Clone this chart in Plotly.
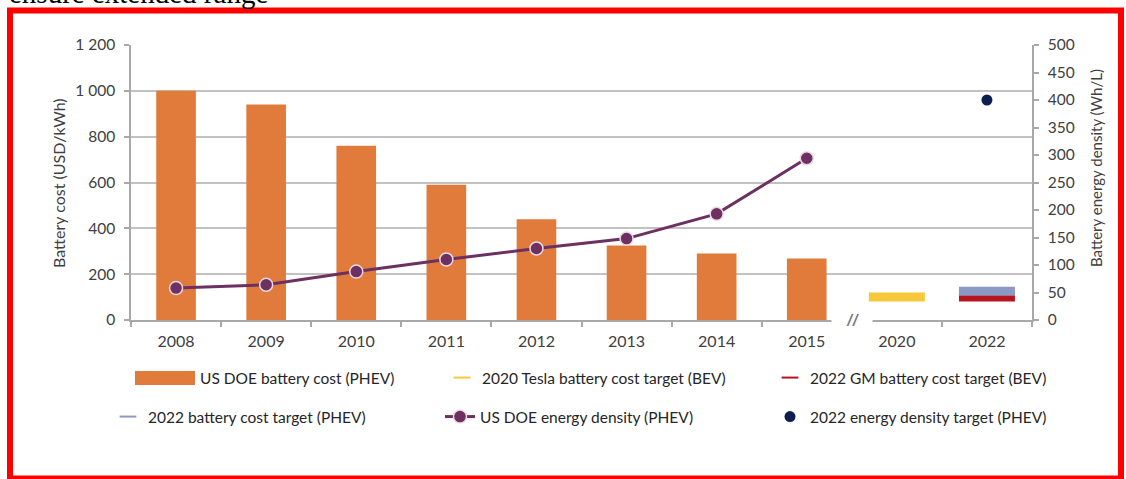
import plotly.graph_objects as go

W, H = 1126, 479

# Category axis (years), with a break between 2015 and 2020
categories = ["2008", "2009", "2010", "2011", "2012", "2013", "2014", "2015", "2020", "2022"]

# US DOE battery cost (PHEV), USD/kWh
cost_years = ["2008", "2009", "2010", "2011", "2012", "2013", "2014", "2015"]
cost_values = [1000, 940, 760, 590, 440, 325, 290, 268]

# US DOE energy density (PHEV), Wh/L
density_years = ["2008", "2009", "2010", "2011", "2012", "2013", "2014", "2015"]
density_values = [58, 64, 88, 110, 130, 148, 193, 294]

# Targets
tesla_year = ["2020"]
tesla_cost_target = [100]
gm_year = ["2022"]
gm_cost_target = [100]
phev_year = ["2022"]
phev_cost_target = [125]
phev_density_target = [400]

cost_tickvals = [0, 200, 400, 600, 800, 1000, 1200]
cost_ticktext = ["0", "200", "400", "600", "800", "1 000", "1 200"]
density_tickvals = [0, 50, 100, 150, 200, 250, 300, 350, 400, 450, 500]
density_ticktext = ["0", "50", "100", "150", "200", "250", "300", "350", "400", "450", "500"]

FONT = "Lato"
ORANGE = "#e07b3c"
YELLOW = "#f7c73c"
RED = "#b8141e"
LAVENDER = "#8c98c6"
PLUM = "#6c3160"
NAVY = "#0e1f4e"
GRID = "#c2c2c2"
AXIS = "#a8a8a8"
TICKTXT = "#404040"
LEGTXT = "#262626"


def px(x):
    return x / W


def py(y):
    return 1 - y / H


fig = go.Figure()

fig.add_trace(go.Bar(
    x=cost_years, y=cost_values, width=0.44,
    marker=dict(color=ORANGE, line=dict(width=0)),
    name="US DOE battery cost (PHEV)", legend="legend3",
))
fig.add_trace(go.Scatter(
    x=tesla_year, y=tesla_cost_target, mode="markers",
    marker=dict(symbol="line-ew", size=40, line=dict(width=9, color=YELLOW)),
    name="2020 Tesla battery cost target (BEV)", legend="legend",
))
fig.add_trace(go.Scatter(
    x=gm_year, y=gm_cost_target, mode="markers",
    marker=dict(symbol="line-ew", size=40, line=dict(width=9, color=RED)),
    name="2022 GM battery cost target (BEV)", legend="legend2",
))
fig.add_trace(go.Scatter(
    x=phev_year, y=phev_cost_target, mode="markers",
    marker=dict(symbol="line-ew", size=40, line=dict(width=9, color=LAVENDER)),
    name="2022 battery cost target (PHEV)", legend="legend4",
))
fig.add_trace(go.Scatter(
    x=density_years, y=density_values, yaxis="y2", mode="lines+markers",
    line=dict(color=PLUM, width=3),
    marker=dict(size=13, color=PLUM, line=dict(color="#ecd8e4", width=1.5)),
    name="US DOE energy density (PHEV)", legend="legend5",
))
fig.add_trace(go.Scatter(
    x=phev_year, y=phev_density_target, yaxis="y2", mode="markers",
    marker=dict(size=11, color=NAVY),
    name="2022 energy density target (PHEV)", legend="legend6",
))


def legend_at(x_item, y_row, sizing="constant"):
    return dict(
        x=px(x_item), xanchor="left", y=py(y_row), yanchor="middle",
        orientation="h", bgcolor="rgba(0,0,0,0)", borderwidth=0,
        font=dict(family=FONT, size=15.5, color=LEGTXT), itemsizing=sizing,
    )


ROW1, ROW2 = 378, 417

fig.update_layout(
    width=W, height=H, autosize=False,
    margin=dict(l=0, r=0, t=0, b=0, autoexpand=False),
    paper_bgcolor="white", plot_bgcolor="white",
    showlegend=True,
    legend=legend_at(442, ROW1),
    legend2=legend_at(770, ROW1),
    legend3=legend_at(160, ROW1),
    legend4=legend_at(108, ROW2),
    legend5=legend_at(440, ROW2, "trace"),
    legend6=legend_at(770, ROW2, "trace"),
    xaxis=dict(
        domain=[px(131), px(1032)], type="category",
        categoryorder="array", categoryarray=categories,
        range=[-0.5, 9.5], tickson="boundaries",
        ticks="outside", ticklen=5, tickcolor=AXIS, tickwidth=1.5,
        showline=True, linecolor=AXIS, linewidth=1.5,
        showgrid=False, ticklabelstandoff=6, automargin=False,
        tickfont=dict(family=FONT, size=16, color=TICKTXT),
    ),
    yaxis=dict(
        domain=[py(320), py(45)], range=[0, 1200],
        tickvals=cost_tickvals, ticktext=cost_ticktext,
        ticks="outside", ticklen=5, tickcolor=AXIS, tickwidth=1.5,
        showline=True, linecolor=AXIS, linewidth=1.5,
        showgrid=True, gridcolor=GRID, gridwidth=1.6, zeroline=False,
        ticklabelstandoff=6, automargin=False,
        tickfont=dict(family=FONT, size=15.5, color=TICKTXT),
    ),
    yaxis2=dict(
        overlaying="y", side="right", anchor="x", range=[0, 500],
        tickvals=density_tickvals, ticktext=density_ticktext,
        ticks="outside", ticklen=5, tickcolor=AXIS, tickwidth=1.5,
        showline=True, linecolor=AXIS, linewidth=1.5,
        showgrid=False, zeroline=False, ticklabelstandoff=6, automargin=False,
        tickfont=dict(family=FONT, size=15.5, color=TICKTXT),
    ),
)

# Wide swatch for the bar series in the legend
fig.add_shape(type="rect", xref="paper", yref="paper",
              x0=px(135), x1=px(195), y0=py(385), y1=py(371),
              fillcolor=ORANGE, line=dict(width=0), layer="below")

# Frame around the figure
fig.add_shape(type="rect", xref="paper", yref="paper",
              x0=px(10), x1=px(1121), y0=py(478.5), y1=py(10.5),
              line=dict(color="#ff0000", width=6), fillcolor="rgba(0,0,0,0)",
              layer="above")

# Axis break mark on the category axis
fig.add_annotation(x=7.5, y=0, xref="x", yref="y", text="//", showarrow=False,
                   font=dict(family=FONT, size=24, color="#7a7a7a"),
                   bgcolor="white", width=38, height=12)

# Axis titles
fig.add_annotation(x=px(58), y=py(183), xref="paper", yref="paper",
                   xanchor="center", yanchor="middle",
                   text="Battery cost (USD/kWh)", textangle=-90, showarrow=False,
                   font=dict(family=FONT, size=16, color=TICKTXT))
fig.add_annotation(x=px(1096), y=py(168), xref="paper", yref="paper",
                   xanchor="center", yanchor="middle",
                   text="Battery energy density (Wh/L)", textangle=-90, showarrow=False,
                   font=dict(family=FONT, size=15, color=TICKTXT))

# Running text from the page above the chart
fig.add_annotation(x=px(7), y=1.0136, xref="paper", yref="paper",
                   xanchor="left", yanchor="middle",
                   text="ensure extended range", showarrow=False,
                   font=dict(family="Liberation Serif", size=29, color="black"))

fig.write_html("out.html")
